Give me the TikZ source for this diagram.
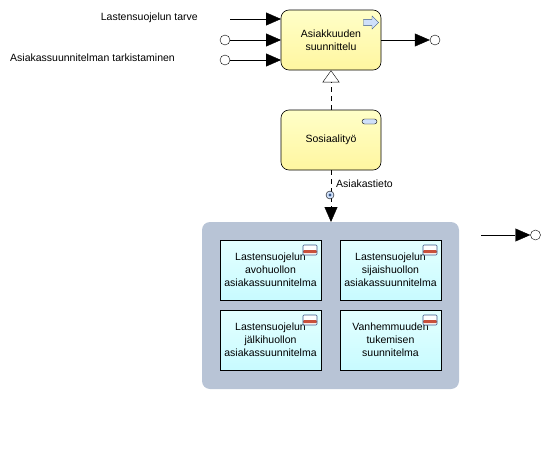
\documentclass[tikz,border=0pt]{standalone}
\usepackage{fontspec}
\setmainfont{Liberation Sans}
\usetikzlibrary{positioning,arrows.meta,shapes.arrows}

\definecolor{proctop}{HTML}{FFFFC8}
\definecolor{procbot}{HTML}{FFF6A0}
\definecolor{grpblue}{HTML}{B8C4D6}
\definecolor{datatop}{HTML}{E4FFFF}
\definecolor{databot}{HTML}{C8FBFF}
\definecolor{iconblue}{HTML}{CFE0FA}
\definecolor{iconline}{HTML}{3A5888}
\definecolor{iconred}{HTML}{C8503C}

\begin{document}
\begin{tikzpicture}[
    x=1pt, y=-1pt,
    proc/.style={draw, line width=0.6pt, rounded corners=8pt, minimum width=100pt, minimum height=60pt,
                 inner sep=0pt, font=\fontsize{10.5}{13}\selectfont, align=center,
                 top color=proctop, bottom color=procbot},
    group/.style={rounded corners=8pt, minimum width=257pt, minimum height=167pt, fill=grpblue},
    dataobj/.style={draw, line width=0.6pt, minimum width=101pt, minimum height=60pt, inner sep=0pt,
                    font=\fontsize{10.5}{13}\selectfont, align=center,
                    top color=datatop, bottom color=databot},
    dataicon/.style={draw=iconline, line width=0.7pt, rounded corners=1pt, minimum width=14pt, minimum height=10pt,
                     inner sep=0pt, fill=white,
                     path picture={\fill[iconred] (path picture bounding box.west) rectangle ([yshift=-3pt]path picture bounding box.east);}},
    pillicon/.style={draw, rounded corners=2.5pt, minimum width=15pt, minimum height=5pt,
                     inner sep=0pt, fill=iconblue},
    procicon/.style={draw=iconline, single arrow, fill=iconblue, minimum width=13pt, minimum height=15pt,
                     single arrow head extend=3pt, inner sep=0pt},
    port/.style={draw, circle, minimum size=10pt, inner sep=0pt, fill=white},
    msgicon/.style={draw, circle, minimum size=8pt, inner sep=0pt, fill=iconblue,
                    path picture={\fill[iconline] (path picture bounding box.center) circle (1.6pt);}},
    arr/.style={-{Triangle[length=15pt,width=13pt]}},
    datadash/.style={dash pattern=on 5pt off 4pt},
    realize/.style={datadash, -{Triangle[open,length=12pt,width=17pt]}},
    lbl/.style={font=\fontsize{10.5}{12}\selectfont, inner sep=0pt}
  ]
  \useasboundingbox (0,0) rectangle (550,450);

  % Processes
  \node[proc] (suunn) at (331,40) {Asiakkuuden\\suunnittelu};
  \node[procicon] (suunnicon) at (369.5,22.5) {\rule{0pt}{5pt}};
  \node[proc] (sos) at (331,140) {Sosiaalityö};
  \node[pillicon] (sosicon) at (369.5,121.5) {};

  % Inputs
  \coordinate (tarvestart) at (230,19);
  \coordinate (tarveend) at (281,19);
  \coordinate (avoend) at (281,40);
  \coordinate (tarkend) at (281,60);
  \node[port] (avo) at (225,40) {};
  \node[port] (tark) at (225,60) {};
  \node[lbl, anchor=east] (tarvelbl) at (198,18) {Lastensuojelun tarve};
  \node[lbl, anchor=east] (tarklbl) at (175,58) {Asiakassuunnitelman tarkistaminen};
  \draw[arr] (tarvestart) -- (tarveend);
  \draw[arr] (avo) -- (avoend);
  \draw[arr] (tark) -- (tarkend);

  % Output
  \node[port] (ulos) at (435,40) {};
  \draw[arr] (suunn.east) -- (ulos.west);

  % Group
  \node[group] (ryhma) at (330.5,305.5) {};
  \node[dataobj] (avoh) at (270.5,270) {Lastensuojelun\\avohuollon\\asiakassuunnitelma};
  \node[dataicon] (avohicon) at (310,250) {};
  \node[dataobj] (sija) at (390.5,270) {Lastensuojelun\\sijaishuollon\\asiakassuunnitelma};
  \node[dataicon] (sijaicon) at (430,250) {};
  \node[dataobj] (jalki) at (270.5,340) {Lastensuojelun\\jälkihuollon\\asiakassuunnitelma};
  \node[dataicon] (jalkiicon) at (310,320) {};
  \node[dataobj] (vanh) at (390.5,340) {Vanhemmuuden\\tukemisen\\suunnitelma};
  \node[dataicon] (vanhicon) at (430,320) {};

  % Connections
  \draw[realize] (sos.north) -- (suunn.south);
  \coordinate (tietoend) at (331,222);
  \draw[arr, datadash] (sos.south) -- (tietoend);
  \node[msgicon] (tieto) at (330,195) {};
  \node[lbl, anchor=west] (tietolbl) at (336,184) {Asiakastieto};

  % Free output
  \coordinate (vapaa) at (481,235);
  \node[port] (vapaaport) at (535.5,235) {};
  \draw[arr] (vapaa) -- (vapaaport.west);
\end{tikzpicture}
\end{document}
